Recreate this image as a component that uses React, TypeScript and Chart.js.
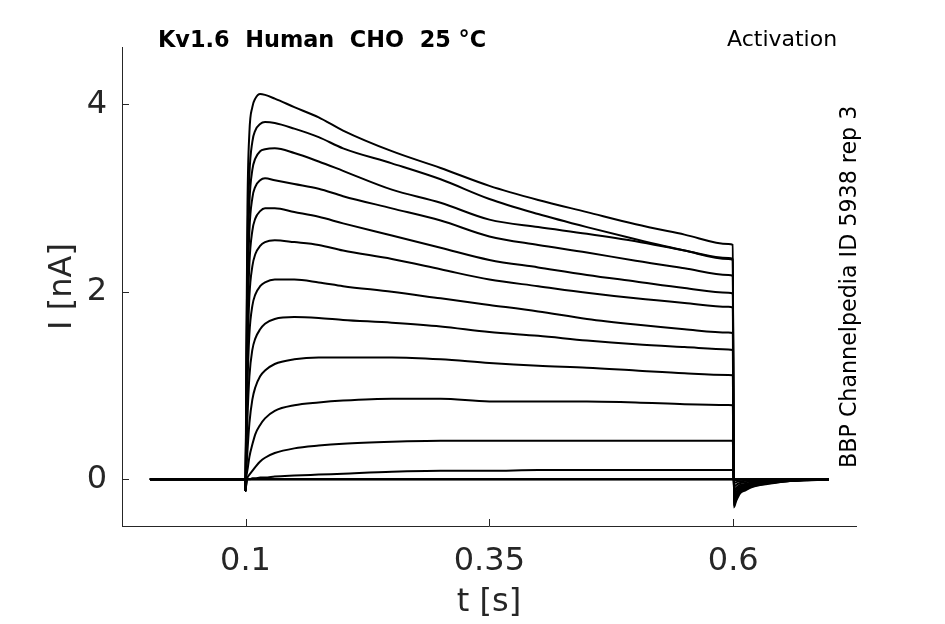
import React, { useEffect, useRef } from "react"
import { Chart, registerables } from "chart.js"

Chart.register(...registerables)

// time base of the sweeps (s)
const timeS = [
  0.002, 0.0995, 0.1, 0.1005, 0.101, 0.102, 0.104, 0.107, 0.11, 0.115, 0.12, 0.13, 0.15, 0.175, 0.2, 0.25,
  0.3, 0.35, 0.4, 0.45, 0.5, 0.55, 0.595, 0.5995, 0.6005, 0.603, 0.607, 0.612, 0.62, 0.635, 0.655, 0.68, 0.698,
]

// current traces (nA), one per voltage step
const trace01 = [0, 0, -0.12, 0.6, 1.5, 2.9, 3.7, 3.97, 4.06, 4.11, 4.1, 4.06, 3.97, 3.86, 3.72, 3.5, 3.32, 3.13, 2.98, 2.85, 2.72, 2.61, 2.51, 2.5, -0.3, -0.23, -0.15, -0.12, -0.08, -0.05, -0.02, -0.01, 0]
const trace02 = [0, 0, -0.12, 0.5, 1.3, 2.5, 3.25, 3.6, 3.72, 3.79, 3.81, 3.8, 3.74, 3.65, 3.53, 3.37, 3.2, 2.99, 2.83, 2.69, 2.56, 2.44, 2.35, 2.34, -0.28, -0.21, -0.14, -0.11, -0.075, -0.045, -0.02, -0.005, 0]
const trace03 = [0, 0, -0.12, 0.45, 1.1, 2.2, 2.95, 3.3, 3.42, 3.5, 3.52, 3.53, 3.48, 3.39, 3.29, 3.09, 2.95, 2.77, 2.69, 2.62, 2.54, 2.44, 2.36, 2.35, -0.27, -0.2, -0.135, -0.11, -0.07, -0.04, -0.02, -0.005, 0]
const trace04 = [0, 0, -0.12, 0.4, 0.95, 1.9, 2.65, 3.0, 3.12, 3.19, 3.21, 3.19, 3.15, 3.1, 3.02, 2.89, 2.76, 2.59, 2.5, 2.42, 2.33, 2.25, 2.18, 2.17, -0.25, -0.19, -0.125, -0.1, -0.065, -0.04, -0.018, -0.005, 0]
const trace05 = [0, 0, -0.12, 0.35, 0.8, 1.6, 2.3, 2.65, 2.78, 2.86, 2.89, 2.89, 2.85, 2.8, 2.73, 2.6, 2.47, 2.34, 2.26, 2.18, 2.11, 2.04, 1.99, 1.98, -0.23, -0.17, -0.115, -0.09, -0.06, -0.035, -0.016, -0.005, 0]
const trace06 = [0, 0, -0.12, 0.3, 0.65, 1.3, 1.95, 2.27, 2.4, 2.49, 2.53, 2.55, 2.53, 2.5, 2.44, 2.35, 2.24, 2.13, 2.06, 1.99, 1.93, 1.88, 1.84, 1.83, -0.21, -0.16, -0.105, -0.085, -0.055, -0.03, -0.015, -0.004, 0]
const trace07 = [0, 0, -0.12, 0.2, 0.5, 1.0, 1.55, 1.85, 1.97, 2.06, 2.1, 2.13, 2.13, 2.1, 2.06, 2.0, 1.93, 1.86, 1.79, 1.71, 1.65, 1.6, 1.565, 1.56, -0.18, -0.135, -0.09, -0.07, -0.05, -0.027, -0.013, -0.004, 0]
const trace08 = [0, 0, -0.12, 0.1, 0.3, 0.65, 1.1, 1.38, 1.5, 1.6, 1.66, 1.71, 1.73, 1.72, 1.7, 1.67, 1.63, 1.57, 1.53, 1.48, 1.44, 1.41, 1.385, 1.38, -0.15, -0.11, -0.075, -0.06, -0.04, -0.022, -0.01, -0.003, 0]
const trace09 = [0, 0, -0.12, 0.05, 0.12, 0.3, 0.6, 0.85, 0.98, 1.1, 1.16, 1.23, 1.28, 1.3, 1.3, 1.3, 1.28, 1.24, 1.21, 1.19, 1.16, 1.13, 1.113, 1.11, -0.12, -0.09, -0.06, -0.05, -0.032, -0.018, -0.008, -0.002, 0]
const trace10 = [0, 0, -0.12, 0, 0.04, 0.1, 0.24, 0.37, 0.48, 0.58, 0.65, 0.73, 0.79, 0.82, 0.84, 0.86, 0.86, 0.83, 0.83, 0.83, 0.82, 0.8, 0.792, 0.79, -0.08, -0.06, -0.04, -0.032, -0.022, -0.012, -0.005, -0.001, 0]
const trace11 = [0, 0, -0.12, -0.05, 0, 0.02, 0.05, 0.09, 0.13, 0.19, 0.23, 0.28, 0.33, 0.36, 0.38, 0.4, 0.41, 0.41, 0.41, 0.41, 0.41, 0.41, 0.41, 0.41, -0.04, -0.03, -0.02, -0.016, -0.011, -0.006, -0.003, 0, 0]
const trace12 = [0, 0, -0.12, -0.08, -0.02, 0, 0, 0.01, 0.01, 0.02, 0.02, 0.03, 0.04, 0.05, 0.06, 0.08, 0.09, 0.09, 0.1, 0.1, 0.1, 0.1, 0.1, 0.1, -0.01, -0.008, -0.005, -0.004, -0.003, -0.002, 0, 0, 0]
const trace13 = [0, 0, -0.12, -0.08, -0.03, 0, 0, 0, 0, 0, 0, 0, 0, 0, 0, 0, 0, 0, 0, 0, 0, 0, 0, 0, 0, 0, 0, 0, 0, 0, 0, 0, 0]
const trace14 = [0, 0, -0.1, -0.07, -0.02, 0, 0, 0, 0, 0, 0, 0, 0, 0, 0, 0, 0, 0, 0, 0, 0, 0, 0, 0, 0, 0, 0, 0, 0, 0, 0, 0, 0]
const trace15 = [0, 0, -0.08, -0.05, -0.01, 0, 0, 0, 0, 0, 0, 0, 0, 0, 0, 0, 0, 0, 0, 0, 0, 0, 0, 0, 0, 0, 0, 0, 0, 0, 0, 0, 0]

const traces = [trace01, trace02, trace03, trace04, trace05, trace06, trace07, trace08, trace09, trace10, trace11, trace12, trace13, trace14, trace15]

const xTicks = [0.1, 0.35, 0.6]
const yTicks = [0, 2, 4]

const titleLeft = "Kv1.6  Human  CHO  25 °C"
const titleRight = "Activation"
const sideNote = "BBP Channelpedia ID 5938 rep 3"

const ink = "#262626"
const fam = '"DejaVu Sans"'

// matlab-style inward ticks + header texts
const decorPlugin = {
  id: "decor",
  afterDraw(chart: any) {
    const { ctx, chartArea, scales } = chart
    ctx.save()
    ctx.strokeStyle = ink
    ctx.lineWidth = 1
    ctx.beginPath()
    for (const v of xTicks) {
      const x = Math.round(scales.x.getPixelForValue(v)) + 0.5
      ctx.moveTo(x, chartArea.bottom)
      ctx.lineTo(x, chartArea.bottom - 7)
    }
    for (const v of yTicks) {
      const y = Math.round(scales.y.getPixelForValue(v)) + 0.5
      ctx.moveTo(chartArea.left, y)
      ctx.lineTo(chartArea.left + 7, y)
    }
    ctx.stroke()

    ctx.fillStyle = "#000"
    ctx.textBaseline = "alphabetic"
    ctx.textAlign = "left"
    ctx.font = `bold 22.4px ${fam}`
    ctx.fillText(titleLeft, 158, 46.5)
    ctx.font = `22px ${fam}`
    ctx.fillText(titleRight, 727, 46)

    ctx.translate(856, 468)
    ctx.rotate(-Math.PI / 2)
    ctx.font = `22.2px ${fam}`
    ctx.fillText(sideNote, 0, 0)
    ctx.restore()
  },
}

export default function App() {
  const canvasRef = useRef<HTMLCanvasElement>(null)
  const chartRef = useRef<Chart | null>(null)

  useEffect(() => {
    if (!canvasRef.current) return
    chartRef.current?.destroy()

    const datasets = traces.map((vals, i) => ({
      label: `sweep ${i + 1}`,
      data: timeS.map((t, k) => ({ x: t, y: vals[k] })),
      borderColor: "#000",
      borderWidth: 2,
      pointRadius: 0,
      fill: false,
      cubicInterpolationMode: "monotone" as const,
    }))

    chartRef.current = new Chart(canvasRef.current, {
      type: "line",
      data: { datasets },
      options: {
        animation: false,
        responsive: false,
        events: [],
        layout: { padding: { top: 47, right: 89, left: 0, bottom: 0 } },
        plugins: { legend: { display: false }, tooltip: { enabled: false } },
        scales: {
          x: {
            type: "linear",
            min: -0.0266,
            max: 0.7258,
            grid: { display: false, drawTicks: false },
            border: { display: true, color: ink, width: 1 },
            afterBuildTicks: (s: any) => {
              s.ticks = xTicks.map((v) => ({ value: v }))
            },
            afterFit: (s: any) => {
              s.height = 98
            },
            ticks: {
              color: ink,
              padding: 16,
              maxRotation: 0,
              font: { family: "DejaVu Sans", size: 32 },
              callback: (v: any) => String(v),
            },
            title: {
              display: true,
              text: "t [s]",
              color: ink,
              font: { family: "DejaVu Sans", size: 32 },
              padding: { top: 0, bottom: 2 },
            },
          },
          y: {
            type: "linear",
            min: -0.498,
            max: 4.611,
            grid: { display: false, drawTicks: false },
            border: { display: true, color: ink, width: 1 },
            afterBuildTicks: (s: any) => {
              s.ticks = yTicks.map((v) => ({ value: v }))
            },
            afterFit: (s: any) => {
              s.width = 122
            },
            ticks: {
              color: ink,
              padding: 15,
              font: { family: "DejaVu Sans", size: 32 },
              callback: (v: any) => String(v),
            },
            title: {
              display: true,
              text: "I [nA]",
              color: ink,
              font: { family: "DejaVu Sans", size: 32 },
              padding: { top: 43, bottom: 0 },
            },
          },
        },
      },
      plugins: [decorPlugin],
    })

    return () => {
      chartRef.current?.destroy()
      chartRef.current = null
    }
  }, [])

  return (
    <div style={{ position: "fixed", left: 0, top: 0, width: 945, height: 624, background: "#fff" }}>
      <canvas ref={canvasRef} width={945} height={624} />
    </div>
  )
}
